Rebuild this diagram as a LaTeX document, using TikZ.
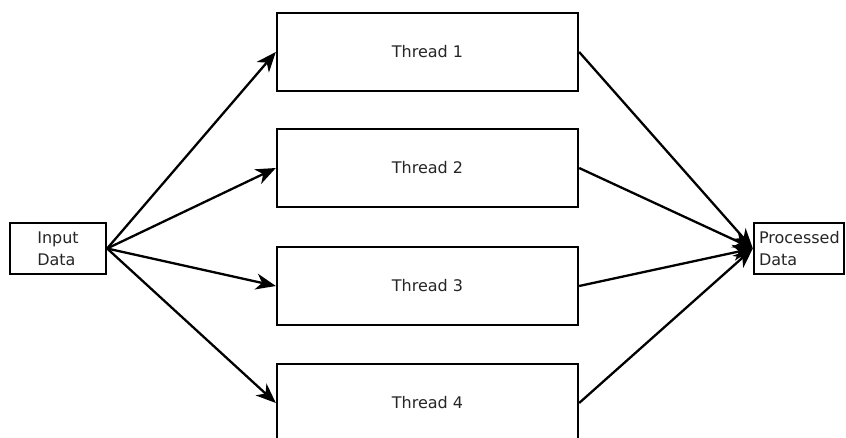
\documentclass[tikz,border=0pt]{standalone}
\usepackage{fontspec}
\setmainfont{DejaVu Sans}
\usetikzlibrary{arrows.meta}
\begin{document}
\begin{tikzpicture}[x=1pt,y=1pt,
  box/.style={draw=black, line width=2.3pt, fill=white, inner sep=0pt,
    font=\fontsize{16}{22}\selectfont, text=black!85},
  link/.style={line width=2.3pt, -{Stealth[length=20pt,width=16pt,inset=6pt]}}]
  \useasboundingbox (0,0) rectangle (846,438);
  \clip (0,0) rectangle (846,438);
  % source and sink
  \node[box, minimum width=96pt, minimum height=51pt, align=left] (in) at (58,189.5) {Input\\Data};
  \node[box, minimum width=90pt, minimum height=51pt, align=left, text width=80pt] (out) at (799,189.5) {Processed\\Data};
  % worker threads
  \node[box, minimum width=301pt, minimum height=78pt] (t1) at (427.5,386) {Thread 1};
  \node[box, minimum width=301pt, minimum height=78pt] (t2) at (427.5,270) {Thread 2};
  \node[box, minimum width=301pt, minimum height=78pt] (t3) at (427.5,152) {Thread 3};
  \node[box, minimum width=301pt, minimum height=78pt] (t4) at (427.5,35) {Thread 4};
  % fan out and fan in
  \foreach \t in {t1,t2,t3,t4} {
    \draw[link] (in.east) -- (\t.west);
    \draw[link] (\t.east) -- (out.west);
  }
\end{tikzpicture}
\end{document}
